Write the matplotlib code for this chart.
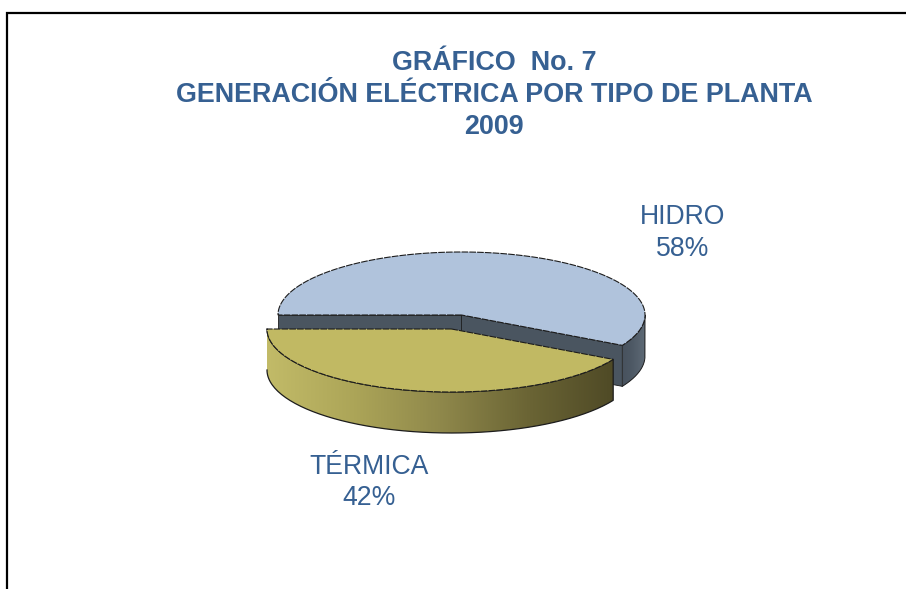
import numpy as np
import matplotlib.pyplot as plt
from matplotlib.colors import LinearSegmentedColormap
from matplotlib.patches import Polygon

# Data
labels = ["HIDRO", "TÉRMICA"]
shares = [58, 42]
title_lines = ["GRÁFICO  No. 7", "GENERACIÓN ELÉCTRICA POR TIPO DE PLANTA", "2009"]

plt.rcParams['font.family'] = ['Liberation Sans', 'DejaVu Sans']
blue = "#366092"
edge = "#1c1c1c"

fig = plt.figure(figsize=(9.06, 5.89), dpi=100)
ax = fig.add_axes([0, 0, 1, 1])
ax.axis("off")


# Point on the rim of a slice, angle in degrees, y going down the page
def rim(cx, cy, a, b, t):
    t = np.radians(t)
    return np.column_stack([cx + a*np.cos(t), cy + b*np.sin(t)])


# Side wall under a stretch of the rim
def wall(cx, cy, a, b, depth, t0, t1):
    top = rim(cx, cy, a, b, np.linspace(t0, t1, 100))
    return np.vstack([top, top[::-1] + [0, depth]])


# Slice angles come from the shares, first slice ends at the left side
sweep = [s/sum(shares)*360 for s in shares]
thermal_end = 180 - sweep[1]

# HIDRO slice
hx, hy, ha, hb, depth = 461.5, 315, 183.5, 63, 41
side_cmap = LinearSegmentedColormap.from_list("side", ["#454f5a", "#4d5864", "#5f6b77"])
outer = Polygon(wall(hx, hy, ha, hb, depth, thermal_end, 0), fc="none", ec="none")
ax.add_patch(outer)
grad = ax.imshow(np.linspace(0, 1, 64).reshape(1, -1), cmap=side_cmap, aspect="auto",
                 extent=[hx + 155, hx + ha, hy + hb + depth, hy - 5], zorder=1)
grad.set_clip_path(outer)
ax.plot(*wall(hx, hy, ha, hb, depth, thermal_end, 0).T, color=edge, lw=0.7, zorder=2)

c = np.array([[hx, hy]])
for t in [180, thermal_end]:
    end = rim(hx, hy, ha, hb, [t])
    face = np.vstack([c, end, end + [0, depth], c + [0, depth]])
    ax.add_patch(Polygon(face, fc="#4a5560", ec=edge, lw=0.6, zorder=3))

angles = np.linspace(180, 180 + sweep[0], 300)
ax.add_patch(Polygon(np.vstack([c, rim(hx, hy, ha, hb, angles)]), fc="#b0c3dc", ec=edge,
                     lw=0.8, ls=(0, (6, 1)), zorder=4))

# TÉRMICA slice, pulled out of the pie
tx, ty, ta, tb = 451.5, 329, 184.5, 63
therm_cmap = LinearSegmentedColormap.from_list("therm", ["#c2bb68", "#aca558", "#8f884b", "#6b6535", "#4f4a26"])
side = Polygon(wall(tx, ty, ta, tb, depth, 180, thermal_end), fc="none", ec="none", zorder=5)
ax.add_patch(side)
grad = ax.imshow(np.linspace(0, 1, 256).reshape(1, -1), cmap=therm_cmap, aspect="auto",
                 extent=[tx - ta, rim(tx, ty, ta, tb, [thermal_end])[0, 0], ty + tb + depth, ty], zorder=5)
grad.set_clip_path(side)
ax.plot(*wall(tx, ty, ta, tb, depth, 180, thermal_end).T, color=edge, lw=0.9, zorder=6)

angles = np.linspace(180, thermal_end, 300)
ax.add_patch(Polygon(np.vstack([[[tx, ty]], rim(tx, ty, ta, tb, angles)]), fc="#c1b963", ec=edge,
                     lw=0.8, ls=(0, (6, 1)), zorder=7))

# Frame, only top and left are there
ax.plot([906, 6.5, 6.5], [13, 13, 589], color="black", lw=1.6, solid_joinstyle="miter", zorder=8)

# Title
for line, y in zip(title_lines, [63.5, 94.5, 126.5]):
    ax.text(494, y, line, color=blue, fontsize=19.4, fontweight="bold", ha="center", va="center")

# Slice labels
ax.text(683, 217, labels[0], color=blue, fontsize=19.2, ha="center", va="center")
ax.text(683, 249, f"{shares[0]}%", color=blue, fontsize=19.2, ha="center", va="center")
ax.text(369, 467, labels[1], color=blue, fontsize=19.2, ha="center", va="center")
ax.text(369, 498, f"{shares[1]}%", color=blue, fontsize=19.2, ha="center", va="center")

ax.set_xlim(0, 906)
ax.set_ylim(589, 0)
fig.savefig("out.png", dpi=100)
